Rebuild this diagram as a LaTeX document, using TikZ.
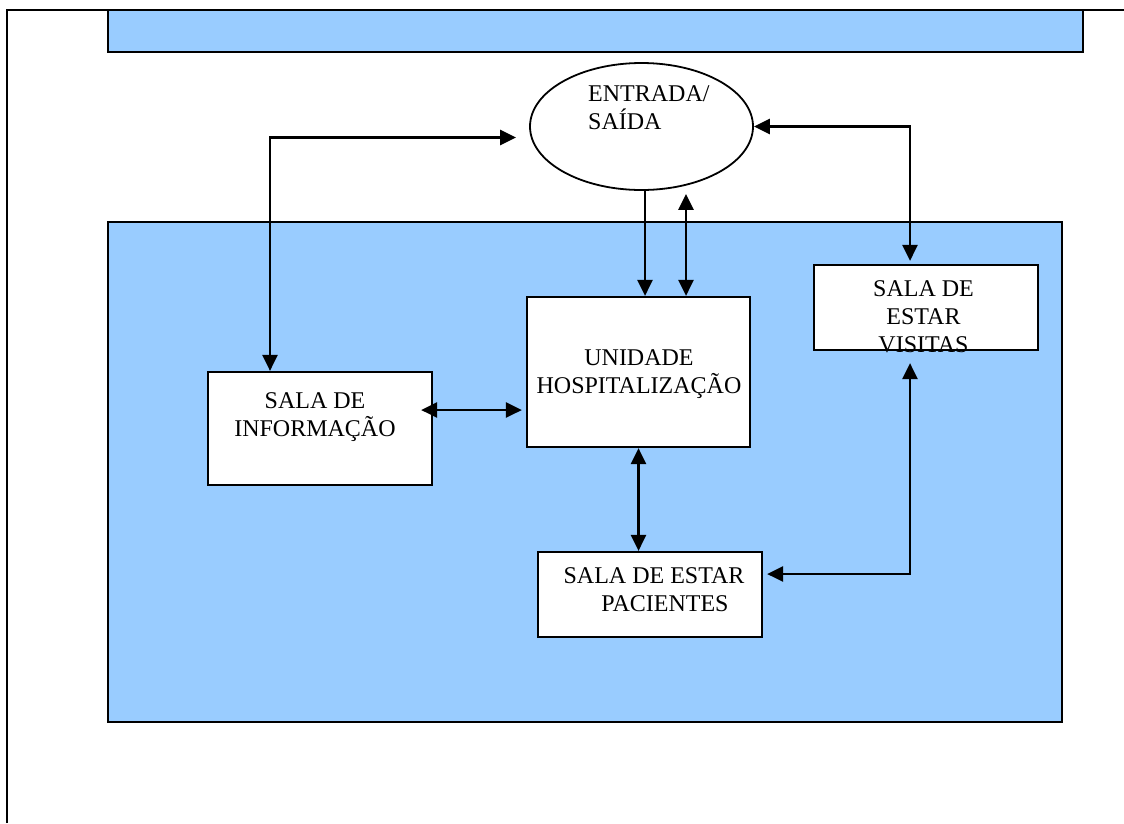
\documentclass[tikz,border=0pt]{standalone}
\usepackage{fontspec}
\setmainfont{Liberation Serif}
\usetikzlibrary{arrows.meta}
\usetikzlibrary{shapes.geometric}
\definecolor{azul}{HTML}{99CCFF}

\begin{document}
\begin{tikzpicture}[x=1pt,y=-1pt,
    caixa/.style={draw,line width=2.2pt,fill=white,inner sep=0pt,minimum width=224pt},
    texto/.style={align=center,inner sep=0pt,anchor=north,font=\fontsize{24}{28}\selectfont},
    seta/.style={line width=2.6pt,-{Triangle[length=16pt,width=15pt]}},
    setas/.style={line width=2.6pt,{Triangle[length=16pt,width=15pt]}-{Triangle[length=16pt,width=15pt]}}]
          \useasboundingbox (0,0) rectangle (1124,823);
          % moldura e fundos
          \draw[line width=2pt] (7,823) -- (7,10) -- (1124,10);
          \draw[fill=azul,line width=2.2pt] (108,10) rectangle (1083,52);
          \draw[fill=azul,line width=1.8pt] (108,222) rectangle (1062,722);
          % salas
          \node[ellipse,draw,line width=1.8pt,fill=white,minimum width=223pt,minimum height=127pt] (es) at (641.5,126.5) {};
          \node[caixa,minimum height=113pt] (info) at (320,428.5) {};
          \node[caixa,minimum width=223pt,minimum height=150pt] (uni) at (638.5,372) {};
          \node[caixa,minimum height=85pt] (vis) at (926,307.5) {};
          \node[caixa,minimum height=85pt] (pac) at (650,594.5) {};
          \node[texto,align=left,anchor=north west] (tes) at (588,85) {ENTRADA/\\SAÍDA};
          \node[texto] (tinfo) at (315,392) {SALA DE\\INFORMAÇÃO};
          \node[texto] (tuni) at (639,349) {UNIDADE\\HOSPITALIZAÇÃO};
          \node[texto] (tvis) at (923.5,280) {SALA DE\\ESTAR\\VISITAS};
          \node[texto] (tpac) at (654,567) {SALA DE ESTAR\\\hspace*{22pt}PACIENTES};
          % ligacoes
          \draw[setas] ([xshift=-50pt]info.north) |- ([shift={(-13,11)}]es.west);
          \draw[setas] (es.east) -| ([xshift=-16pt,yshift=3pt]vis.north);
          \draw[seta] ([xshift=3.5pt]es.south) -- ([xshift=3.5pt]es.south |- uni.north);
          \draw[setas] ([xshift=47.5pt]uni.north) -- ([xshift=44.5pt,yshift=-3pt]es.south);
          \draw[setas,shorten <=-12pt,shorten >=4pt] ([yshift=18.5pt]info.east) -- ([yshift=18.5pt]info.east -| uni.west);
          \draw[setas] (uni.south) -- (uni.south |- pac.north);
          \draw[setas] ([xshift=-16pt,yshift=-12pt]vis.south) |- ([xshift=4pt,yshift=20.5pt]pac.east);
        \end{tikzpicture}
\end{document}
